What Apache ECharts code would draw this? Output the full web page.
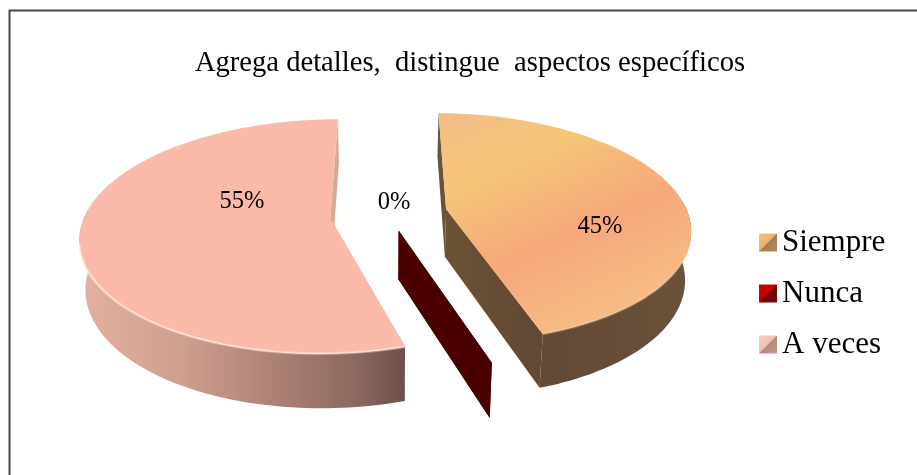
<!DOCTYPE html>
<html><head><meta charset="utf-8">
<style>html,body{margin:0;padding:0;background:#fff}#c{width:917px;height:475px}</style>
<script src="https://cdn.jsdelivr.net/npm/echarts@6/dist/echarts.min.js"></script>
</head><body><div id="c"></div>
<script>
const titleText = 'Agrega detalles,  distingue  aspectos específicos';
const categories = ['Siempre', 'Nunca', 'A veces'];
const values = [45, 0, 55];
const total = values.reduce((a, b) => a + b, 0);

const G = (x0, y0, x1, y1, stops) => new echarts.graphic.LinearGradient(x0, y0, x1, y1,
  stops.map(s => ({ offset: s[0], color: s[1] })), true);

// picture of the tilted pie: a projective view of a flat disc
const view = { ox: 387, oy: 214, sx: 245, sy: 113, k: 0.155, depth: 48, depthGrow: 35, shrink: 0.98 };
const RAD = Math.PI / 180;
const looks = [
  { explode: 0.233, trim: [0.8, -0.4], apexNudge: [3, -1], label: [600, 227],
    top: G(445, 115, 546, 339, [[0, '#f3bd88'], [0.28, '#f5c678'], [0.65, '#f6a87a'], [1, '#f7bb85']]),
    side: G(445, 0, 690, 0, [[0, '#6b5236'], [0.35, '#634834'], [0.7, '#674d38'], [1, '#6b5239']]),
    rim: 'rgba(250,205,150,0.35)' },
  { explode: 0.15, trim: [0, 0], apexNudge: [0, 0], label: [394, 203], top: '#4a0000', side: '#4a0000', rim: null },
  { explode: 0.233, trim: [1, 0], apexNudge: [0, 0], label: [242, 202], top: '#fab9a9', inner: '#d8a897',
    side: G(85, 0, 405, 0, [[0, '#e3b09f'], [0.3, '#cf9f8f'], [0.6, '#ad8074'], [0.85, '#8b685f'], [1, '#6c5049']]),
    rim: 'rgba(255,232,222,0.8)' }
];

function project(X, Y) {
  const s = 1 / (1 - view.k * Y);
  return { x: view.ox + X * s * view.sx, y: view.oy + Y * s * view.sy, s };
}
function lower(p) {
  return [view.ox + (p.x - view.ox) * view.shrink, p.y + view.depth + (p.s - 1) * view.depthGrow];
}

function sliceShape(i) {
  const before = values.slice(0, i).reduce((a, b) => a + b, 0);
  const b0 = before / total * 2 * Math.PI, b1 = (before + values[i]) / total * 2 * Math.PI;
  const mid = (b0 + b1) / 2, e = looks[i].explode;
  const a0 = b0 + looks[i].trim[0] * RAD, a1 = b1 + looks[i].trim[1] * RAD;
  const ax = Math.sin(mid) * e, ay = -Math.cos(mid) * e;
  const steps = Math.max(2, Math.round((a1 - a0) * 40));
  const arc = [];
  for (let n = 0; n <= steps; n++) {
    const t = a0 + (a1 - a0) * n / steps;
    const p = project(ax + Math.sin(t), ay - Math.cos(t));
    p.facing = Math.cos(t) < 0.1;
    arc.push(p);
  }
  const apex = project(ax, ay);
  apex.x += looks[i].apexNudge[0];
  apex.y += looks[i].apexNudge[1];
  return { apex, arc };
}

function renderSlice(params) {
  const i = params.seriesIndex, look = looks[i], sh = sliceShape(i);
  const kids = [];
  const topPts = sh.arc.map(p => [p.x, p.y]);
  const wallArc = sh.arc.filter(p => p.facing);
  // the two cut walls, behind the outer wall
  [sh.arc[0], sh.arc[sh.arc.length - 1]].forEach(p => {
    kids.push({ type: 'polygon', shape: { points: [[sh.apex.x, sh.apex.y], [p.x, p.y], lower(p), lower(sh.apex)] },
      style: { fill: look.inner || look.side } });
  });
  // outer wall, only where it faces the viewer
  if (wallArc.length > 1) {
    kids.push({ type: 'polygon', shape: { points: wallArc.map(p => [p.x, p.y]).concat(wallArc.map(lower).reverse()) }, style: { fill: look.side } });
  }
  // top face
  if (values[i] > 0) {
    kids.push({ type: 'polygon', shape: { points: [[sh.apex.x, sh.apex.y]].concat(topPts) }, style: { fill: look.top } });
    const front = sh.arc.filter(p => p.y > view.oy + 30).map(p => [p.x, p.y]);
    kids.push({ type: 'polyline', shape: { points: front }, style: { fill: null, stroke: look.rim, lineWidth: 3, opacity: 0.45 } });
    kids.push({ type: 'polyline', shape: { points: front }, style: { fill: null, stroke: look.rim, lineWidth: 1.2 } });
  }
  kids.push({ type: 'text', z2: 20, style: {
    text: Math.round(values[i] / total * 100) + '%', x: look.label[0], y: look.label[1],
    align: 'center', verticalAlign: 'middle', fill: '#000', font: '24.5px "Liberation Serif"' } });
  return { type: 'group', children: kids };
}

const legendFill = [
  new echarts.graphic.LinearGradient(0, 0, 1, 1, [{ offset: 0, color: '#f3c675' }, { offset: 0.5, color: '#e8b06c' }, { offset: 0.5, color: '#a87a55' }, { offset: 1, color: '#b48a62' }]),
  new echarts.graphic.LinearGradient(0, 0, 1, 1, [{ offset: 0, color: '#d80000' }, { offset: 0.5, color: '#c00000' }, { offset: 0.5, color: '#6a0808' }, { offset: 1, color: '#7a0a0a' }]),
  new echarts.graphic.LinearGradient(0, 0, 1, 1, [{ offset: 0, color: '#f8cfc2' }, { offset: 0.5, color: '#f0c0b0' }, { offset: 0.5, color: '#b58a7c' }, { offset: 1, color: '#c49a8c' }])
];

const chart = echarts.init(document.getElementById('c'), null, { renderer: 'canvas' });
chart.setOption({
  animation: false,
  backgroundColor: '#fff',
  title: { text: titleText, left: 465, top: 44, textAlign: 'center',
    textStyle: { fontFamily: 'Liberation Serif', fontSize: 28.6, fontWeight: 'normal', color: '#000' } },
  legend: { orient: 'vertical', left: 754, top: 222, itemWidth: 18, itemHeight: 18, itemGap: 20, selectedMode: false,
    data: categories.map(n => ({ name: n, icon: 'rect' })),
    textStyle: { fontFamily: 'Liberation Serif', fontSize: 31, color: '#000' } },
  graphic: [{ type: 'rect', shape: { x: 9.5, y: 10.5, width: 1000, height: 1000 }, style: { fill: null, stroke: '#484848', lineWidth: 2 }, silent: true }],
  series: categories.map((name, i) => ({
    type: 'custom', name, coordinateSystem: 'none', silent: true,
    itemStyle: { color: legendFill[i] },
    data: [[values[i]]], renderItem: renderSlice
  }))
});
</script></body></html>
